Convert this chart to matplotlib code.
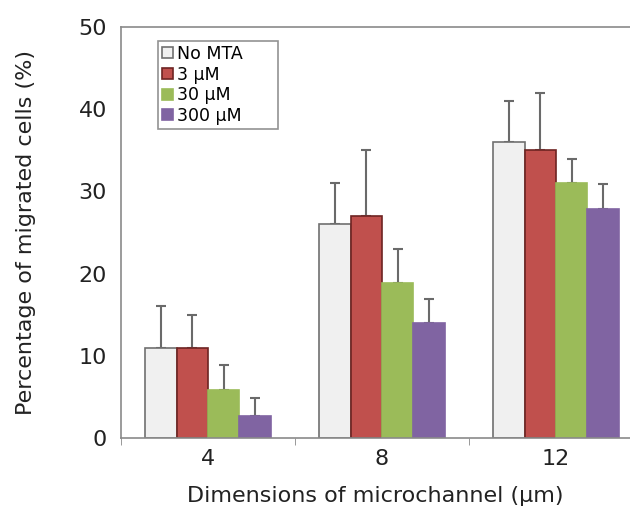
import numpy as np
import matplotlib.pyplot as plt

# values
sizes = ['4', '8', '12']
groups = ['No MTA', '3 \u00b5M', '30 \u00b5M', '300 \u00b5M']
means = [
    [11, 26, 36],
    [11, 27, 35],
    [5.8, 18.8, 31],
    [2.7, 14, 27.9],
]
errs = [
    [5, 5, 5],
    [4, 8, 7],
    [3.1, 4.2, 3],
    [2.1, 2.9, 3],
]
fills = ['#f0f0f0', '#c0504d', '#9bbb59', '#8064a2']
edges = ['#707070', '#6e2422', '#9bbb59', '#8064a2']

fig = plt.figure(figsize=(6.3, 5.11), dpi=100)
ax = fig.add_axes([0.192, 0.143, 0.808, 0.804])

x = np.arange(len(sizes))
w = 0.18
for i, name in enumerate(groups):
    pos = x + (i - 1.5) * w
    ax.bar(pos, means[i], w, color=fills[i], edgecolor=edges[i],
           linewidth=1.2, label=name, zorder=2)
    ax.errorbar(pos, means[i], yerr=[np.zeros(3), errs[i]], fmt='none',
                ecolor='#6a6a6a', elinewidth=1.5, capsize=3.5,
                capthick=1.5, zorder=1)

ax.set_xlim(-0.5, 2.425)
ax.set_ylim(0, 50)
ax.set_yticks([0, 10, 20, 30, 40, 50])
ax.set_xticks(x)
ax.set_xticklabels(sizes)
ax.set_xticks([-0.5, 0.5, 1.5], minor=True)
ax.tick_params(axis='x', which='major', length=0, labelsize=16, pad=8,
               labelcolor='#222222')
ax.tick_params(axis='x', which='minor', length=5, color='#888888')
ax.tick_params(axis='y', length=0, labelsize=16, pad=10, labelcolor='#222222')

for side in ['left', 'bottom', 'top']:
    ax.spines[side].set_color('#8a8a8a')
    ax.spines[side].set_linewidth(1.2)
ax.spines['right'].set_visible(False)

ax.set_xlabel('Dimensions of microchannel (\u00b5m)', fontsize=16,
              color='#222222', labelpad=12)
ax.set_ylabel('Percentage of migrated cells (%)', fontsize=16,
              color='#222222', labelpad=31)

leg = ax.legend(loc='upper left', bbox_to_anchor=(0.073, 0, 0.236, 0.967),
                mode='expand', fontsize=12.5, frameon=True, fancybox=False,
                handlelength=0.6, handleheight=0.6, handletextpad=0.25,
                labelspacing=0.15, borderpad=0.25, borderaxespad=0)
leg.get_frame().set_edgecolor('#777777')
leg.get_frame().set_linewidth(1.2)

fig.savefig('out.png', dpi=100)
